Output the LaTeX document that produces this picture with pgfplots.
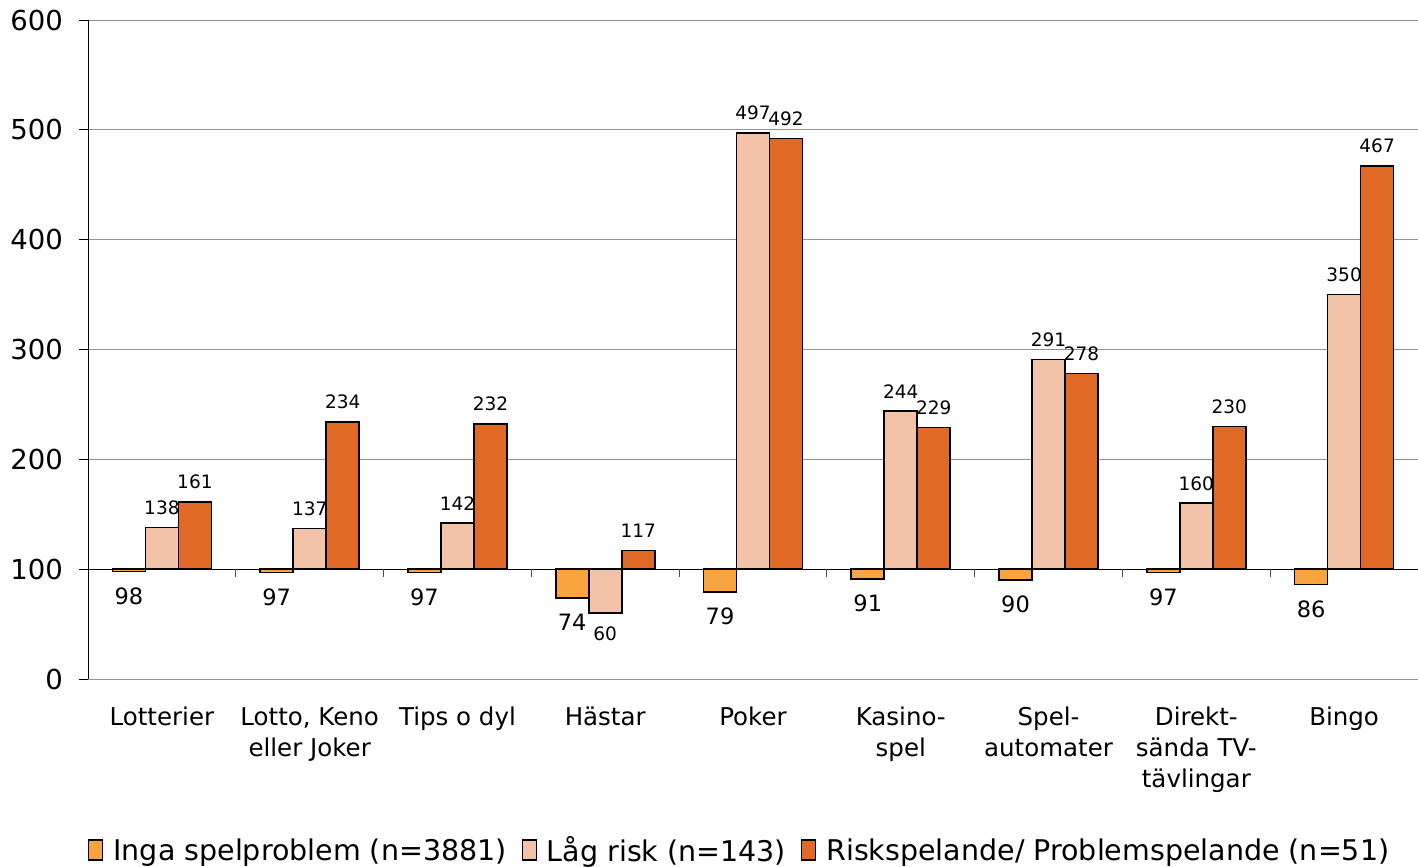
\documentclass[border=0pt]{standalone}
\usepackage{fontspec}
\setmainfont{DejaVu Sans}
\usepackage{pgfplots}
\usepackage{pgfplotstable}
\pgfplotsset{compat=1.18}
\definecolor{cInga}{HTML}{F9A43E}
\definecolor{cLag}{HTML}{F2C3A8}
\definecolor{cRisk}{HTML}{E06A25}

\pgfplotstableread{
x inga lag risk
0 98 138 161
1 97 137 234
2 97 142 232
3 74 60 117
4 79 497 492
5 91 244 229
6 90 291 278
7 97 160 230
8 86 350 467
}\data

\begin{document}
\begin{tikzpicture}
\begin{axis}[
  scale only axis, width=1330pt, height=659pt,
  xmin=-0.5, xmax=8.5, ymin=-100, ymax=500,
  clip=false,
  ybar=0pt, bar width=33pt,
  axis lines*=left,
  x axis line style={draw=none},
  y axis line style={black, line width=0.9pt},
  xtick={0,...,8},
  xticklabels={Lotterier,{Lotto, Keno\\eller Joker},Tips o dyl,Hästar,Poker,{Kasino-\\spel},{Spel-\\automater},{Direkt-\\sända TV-\\tävlingar},Bingo},
  x tick style={draw=none},
  xticklabel style={align=center, font=\fontsize{24.5}{31}\selectfont, inner sep=0pt, anchor=north, yshift=-19pt},
  ytick={-100,0,...,500},
  yticklabels={0,100,200,300,400,500,600},
  yticklabel style={font=\fontsize{27.5}{30}\selectfont, inner sep=0pt, anchor=east, xshift=-16pt},
  y tick style={black, line width=0.9pt},
  tick align=outside, major tick length=9pt,
  ymajorgrids, major grid style={gray!85, line width=0.9pt},
  legend style={at={(0.49,-0.2595)}, anchor=center, draw=none, font=\fontsize{28.5}{30}\selectfont, legend columns=3,
    /tikz/every even column/.append style={column sep=13pt}},
  legend cell align=left,
]
\addplot[fill=cInga, draw=black, line width=1.6pt, nodes near coords, point meta=explicit symbolic,
  every node near coord/.append style={font=\fontsize{22.5}{24}\selectfont, inner sep=0pt, outer sep=16pt, anchor=north},
  legend image code/.code={\draw[fill=cInga, draw=black, line width=1.3pt] (0pt,-10pt) rectangle (14pt,10pt);}]
  table[x=x, y expr=\thisrow{inga}-100, meta=inga]{\data};
\addplot[fill=cLag, draw=black, line width=1.6pt, nodes near coords, point meta=explicit symbolic,
  visualization depends on={y \as \ry},
  every node near coord/.append style={font=\fontsize{18.5}{20}\selectfont, inner sep=0pt, outer sep=13pt, anchor=south,
    yshift={(\ry<0)*(-41)}},
  legend image code/.code={\draw[fill=cLag, draw=black, line width=1.3pt] (0pt,-10pt) rectangle (14pt,10pt);}]
  table[x=x, y expr=\thisrow{lag}-100, meta=lag]{\data};
\addplot[fill=cRisk, draw=black, line width=1.6pt, nodes near coords, point meta=explicit symbolic,
  every node near coord/.append style={font=\fontsize{18.5}{20}\selectfont, inner sep=0pt, outer sep=13pt, anchor=south},
  legend image code/.code={\draw[fill=cRisk, draw=black, line width=1.3pt] (0pt,-10pt) rectangle (14pt,10pt);}]
  table[x=x, y expr=\thisrow{risk}-100, meta=risk]{\data};
\legend{\hspace{8pt}Inga spelproblem (n=3881),\hspace{8pt}Låg risk (n=143),\hspace{8pt}Riskspelande/ Problemspelande (n=51)}
\draw[black, line width=1pt] (axis cs:-0.5,0) -- (axis cs:8.5,0);
\pgfplotsinvokeforeach{0.5,1.5,2.5,3.5,4.5,5.5,6.5,7.5}{\draw[gray!60!black, line width=0.9pt] (axis cs:#1,0) -- ([yshift=-8pt]axis cs:#1,0);}
\coordinate (bl) at (rel axis cs:0,0);
\coordinate (tr) at (rel axis cs:1,1);
\end{axis}
\pgfresetboundingbox
\path ([xshift=-88pt,yshift=-187pt]bl) rectangle ([yshift=20pt]tr);
\end{tikzpicture}
\end{document}
